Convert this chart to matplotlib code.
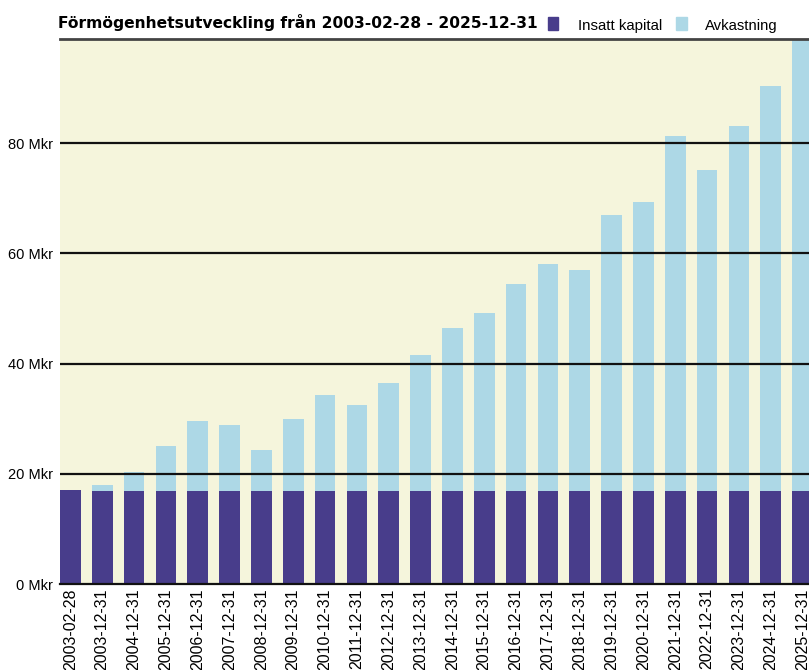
import matplotlib.pyplot as plt
from matplotlib.patches import Rectangle

# data (Mkr)
datum = ['2003-02-28', '2003-12-31', '2004-12-31', '2005-12-31', '2006-12-31',
         '2007-12-31', '2008-12-31', '2009-12-31', '2010-12-31', '2011-12-31',
         '2012-12-31', '2013-12-31', '2014-12-31', '2015-12-31', '2016-12-31',
         '2017-12-31', '2018-12-31', '2019-12-31', '2020-12-31', '2021-12-31',
         '2022-12-31', '2023-12-31', '2024-12-31', '2025-12-31']
insatt = [17.1, 16.8, 16.8, 16.8, 16.8, 16.8, 16.8, 16.8, 16.8, 16.8, 16.8, 16.8,
          16.8, 16.8, 16.8, 16.8, 16.8, 16.8, 16.8, 16.8, 16.8, 16.8, 16.8, 16.8]
avkastning = [0.0, 1.1, 3.5, 8.3, 12.7, 12.1, 7.6, 13.2, 17.5, 15.6, 19.6, 24.8,
              29.6, 32.3, 37.7, 41.2, 40.2, 50.2, 52.6, 64.5, 58.3, 66.3, 73.6, 85.2]
y_ticks = [0, 20, 40, 60, 80]

MORK = '#483D8B'
LJUS = '#ADD8E6'
BAKGRUND = '#F5F5DC'
W, H = 809, 670

fig = plt.figure(figsize=(W / 100, H / 100), dpi=100)
ax = fig.add_axes([60 / W, 1 - 584 / H, 1 - 60 / W, (584 - 38.5) / H])
ax.set_facecolor(BAKGRUND)

x = list(range(len(datum)))
ax.bar(x, insatt, width=0.65, color=MORK, zorder=2)
ax.bar(x, avkastning, width=0.65, bottom=insatt, color=LJUS, zorder=2)

ax.set_xlim(-0.325, 23.2)
ax.set_ylim(0, 99)

for v in y_ticks[1:]:
    ax.axhline(v, color='#111111', linewidth=1.6, zorder=3)

ax.set_yticks(y_ticks)
ax.set_yticklabels([f'{v} Mkr' for v in y_ticks], fontsize=10.5, family='Liberation Sans')
ax.set_xticks(x)
ax.set_xticklabels(datum, rotation=90, fontsize=11.5, family='Liberation Sans', va='top')
ax.tick_params(axis='both', length=0, pad=5)
ax.tick_params(axis='x', pad=3)

for s in ['left', 'right']:
    ax.spines[s].set_visible(False)
ax.spines['top'].set_color('#444444')
ax.spines['top'].set_linewidth(2)
ax.spines['bottom'].set_color('#111111')
ax.spines['bottom'].set_linewidth(1.6)

# titel + förklaring i samma rad
rubrik = fig.text(58 / W, 1 - 28 / H, 'Förmögenhetsutveckling från 2003-02-28 - 2025-12-31',
                  fontsize=12, fontweight='bold', va='baseline', ha='left', family='DejaVu Sans')
fig.patches.append(Rectangle((548 / W, 1 - 30 / H), 10 / W, 13 / H,
                             transform=fig.transFigure, color=MORK))
t1 = fig.text(578 / W, 1 - 30 / H, 'Insatt kapital', fontsize=10.5, va='baseline', ha='left',
              family='Liberation Sans')
fig.patches.append(Rectangle((676 / W, 1 - 30 / H), 11 / W, 13 / H,
                             transform=fig.transFigure, color=LJUS))
t2 = fig.text(705 / W, 1 - 30 / H, 'Avkastning', fontsize=10.5, va='baseline', ha='left',
              family='Liberation Sans')

# anpassa textstorlek till bredden i förlagan
r = fig.canvas.get_renderer()
for t, bredd in [(rubrik, 478), (t1, 85), (t2, 73)]:
    w = t.get_window_extent(r).width
    t.set_fontsize(t.get_fontsize() * bredd / w)

fig.savefig('out.png', dpi=100)
